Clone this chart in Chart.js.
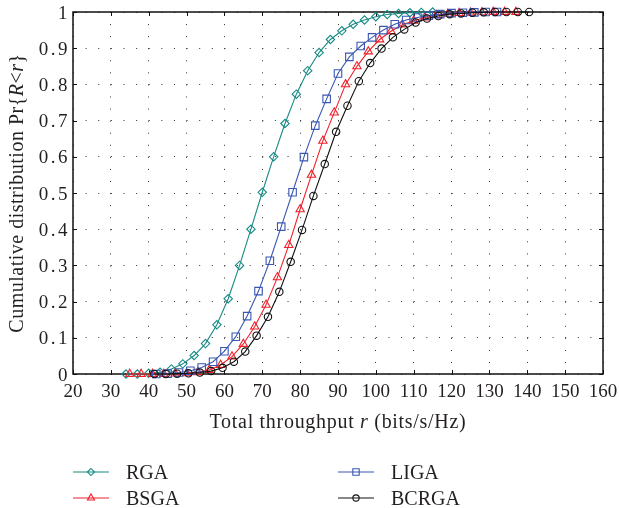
<!DOCTYPE html>
<html>
<head>
<meta charset="utf-8">
<script src="https://cdn.jsdelivr.net/npm/chart.js@4.4.0/dist/chart.umd.min.js"></script>
<style>
html, body { margin: 0; padding: 0; background: #fff; }
#wrap { width: 619px; height: 508px; }
</style>
</head>
<body>
<div id="wrap"><canvas id="cdfChart" width="619" height="508"></canvas></div>
<script>
// total throughput r (bits/s/Hz) at each marker, and Pr{R<r}
const rgaX = [34, 37, 40, 43, 46, 49, 52, 55, 58, 61, 64, 67, 70, 73, 76, 79, 82, 85, 88, 91, 94, 97, 100, 103, 106, 109, 112, 115];
const rgaY = [0, 0, 0.002, 0.005, 0.014, 0.028, 0.051, 0.084, 0.136, 0.208, 0.300, 0.400, 0.502, 0.600, 0.692, 0.773, 0.838, 0.888, 0.924, 0.948, 0.966, 0.978, 0.987, 0.993, 0.996, 0.998, 0.999, 1];

const bsgaX = [35, 38, 41, 44, 47, 50, 53, 56, 59, 62, 65, 68, 71, 74, 77, 80, 83, 86, 89, 92, 95, 98, 101, 104, 107, 110, 113, 116, 119, 122, 125, 128, 131, 134, 137];
const bsgaY = [0, 0, 0, 0, 0.001, 0.002, 0.005, 0.011, 0.025, 0.048, 0.083, 0.131, 0.191, 0.267, 0.356, 0.455, 0.550, 0.644, 0.722, 0.800, 0.850, 0.891, 0.924, 0.947, 0.965, 0.976, 0.985, 0.991, 0.995, 0.997, 0.998, 0.999, 1, 1, 1];

const ligaX = [42, 45, 48, 51, 54, 57, 60, 63, 66, 69, 72, 75, 78, 81, 84, 87, 90, 93, 96, 99, 102, 105, 108, 111, 114, 117, 120, 123, 126, 129, 132];
const ligaY = [0, 0.001, 0.004, 0.009, 0.018, 0.034, 0.063, 0.103, 0.160, 0.229, 0.313, 0.407, 0.502, 0.599, 0.686, 0.760, 0.830, 0.876, 0.906, 0.930, 0.950, 0.966, 0.978, 0.985, 0.990, 0.994, 0.997, 0.998, 0.999, 1, 1];

const bcrgaX = [41.5, 44.5, 47.5, 50.5, 53.5, 56.5, 59.5, 62.5, 65.5, 68.5, 71.5, 74.5, 77.5, 80.5, 83.5, 86.5, 89.5, 92.5, 95.5, 98.5, 101.5, 104.5, 107.5, 110.5, 113.5, 116.5, 119.5, 122.5, 125.5, 128.5, 131.5, 134.5, 137.5, 140.5];
const bcrgaY = [0, 0, 0.001, 0.002, 0.004, 0.008, 0.017, 0.034, 0.062, 0.106, 0.158, 0.227, 0.310, 0.398, 0.492, 0.580, 0.669, 0.741, 0.809, 0.859, 0.899, 0.930, 0.952, 0.971, 0.982, 0.989, 0.994, 0.996, 0.998, 0.999, 1, 1, 1, 1];

const xTicks = [20, 30, 40, 50, 60, 70, 80, 90, 100, 110, 120, 130, 140, 150, 160];
const yTicks = [0, 0.1, 0.2, 0.3, 0.4, 0.5, 0.6, 0.7, 0.8, 0.9, 1];
const yTickLabels = ['0', '0.1', '0.2', '0.3', '0.4', '0.5', '0.6', '0.7', '0.8', '0.9', '1'];

const seriesNames = ['RGA', 'BSGA', 'LIGA', 'BCRGA'];

const TEXT = '#231f20';
const FONT = "'Liberation Serif', 'DejaVu Serif', serif";

function pts(xs, ys) {
    return xs.map((v, i) => ({ x: v, y: ys[i] }));
}

function series(label, xs, ys, color, style, radius, order) {
    return {
        label: label,
        data: pts(xs, ys),
        borderColor: color,
        borderWidth: 1.1,
        pointStyle: style,
        pointRadius: radius,
        pointBorderWidth: 1.1,
        pointBorderColor: color,
        pointBackgroundColor: 'rgba(0,0,0,0)',
        fill: false,
        tension: 0,
        clip: false,
        order: order
    };
}

// draw a run of text pieces (some italic) centred on x = 0, baseline y = 0
function drawPieces(ctx, pieces, size) {
    let total = 0;
    pieces.forEach(p => {
        ctx.font = (p[1] ? 'italic ' : '') + size + 'px ' + FONT;
        total += ctx.measureText(p[0]).width;
    });
    let cx = -total / 2;
    pieces.forEach(p => {
        ctx.font = (p[1] ? 'italic ' : '') + size + 'px ' + FONT;
        ctx.fillText(p[0], cx, 0);
        cx += ctx.measureText(p[0]).width;
    });
}

const frameAndLabels = {
    id: 'frameAndLabels',
    beforeDatasetsDraw(chart) {
        const { ctx, chartArea: a, scales: { x, y } } = chart;
        ctx.save();
        ctx.strokeStyle = '#111';
        ctx.lineWidth = 1;
        ctx.beginPath();
        xTicks.forEach(v => {
            const px = Math.round(x.getPixelForValue(v)) + 0.5;
            ctx.moveTo(px, a.bottom); ctx.lineTo(px, a.bottom - 4);
            ctx.moveTo(px, a.top); ctx.lineTo(px, a.top + 4);
        });
        yTicks.forEach(v => {
            const py = Math.round(y.getPixelForValue(v)) + 0.5;
            ctx.moveTo(a.left, py); ctx.lineTo(a.left + 4, py);
            ctx.moveTo(a.right, py); ctx.lineTo(a.right - 4, py);
        });
        ctx.stroke();
        ctx.lineWidth = 1.5;
        ctx.strokeRect(a.left, a.top, a.right - a.left, a.bottom - a.top);
        ctx.restore();
    },
    afterDraw(chart) {
        const { ctx, chartArea: a, scales: { x, y } } = chart;
        ctx.save();
        ctx.fillStyle = TEXT;
        ctx.textBaseline = 'alphabetic';

        // tick labels
        ctx.font = '19px ' + FONT;
        ctx.textAlign = 'center';
        xTicks.forEach(v => {
            ctx.fillText(String(v), x.getPixelForValue(v), a.bottom + 23);
        });
        ctx.textAlign = 'right';
        ctx.letterSpacing = '2.5px';
        yTicks.forEach((v, i) => {
            ctx.fillText(yTickLabels[i], a.left - 3, y.getPixelForValue(v) + 6.5);
        });

        // axis titles
        ctx.textAlign = 'left';
        ctx.save();
        ctx.letterSpacing = '0.7px';
        ctx.translate((a.left + a.right) / 2, 428);
        drawPieces(ctx, [['Total throughput ', false], ['r', true], [' (bits/s/Hz)', false]], 20);
        ctx.restore();

        ctx.save();
        ctx.letterSpacing = '0.5px';
        ctx.translate(23, (a.top + a.bottom) / 2);
        ctx.rotate(-Math.PI / 2);
        drawPieces(ctx, [['Cumulative distribution Pr{', false], ['R', true], ['<', false], ['r', true], ['}', false]], 20);
        ctx.restore();

        // legend
        ctx.letterSpacing = '0px';
        const spots = [[73, 472], [73, 498], [338, 472], [338, 498]];
        chart.data.datasets.forEach(ds => {
            const k = seriesNames.indexOf(ds.label);
            const [lx, ly] = spots[k];
            ctx.strokeStyle = ds.borderColor;
            ctx.lineWidth = 1.1;
            ctx.beginPath();
            ctx.moveTo(lx, ly);
            ctx.lineTo(lx + 36, ly);
            ctx.stroke();
            ctx.fillStyle = 'rgba(0,0,0,0)';
            Chart.helpers.drawPoint(ctx, {
                pointStyle: ds.pointStyle,
                radius: ds.pointRadius * 0.85,
                rotation: 0,
                borderWidth: 1.1
            }, lx + 18, ly);
            ctx.fillStyle = TEXT;
            ctx.textAlign = 'left';
            ctx.font = '20px ' + FONT;
            ctx.fillText(ds.label, lx + 53, ly + 6.5);
        });
        ctx.restore();
    }
};

const ctx = document.getElementById('cdfChart').getContext('2d');
const cdfChart = new Chart(ctx, {
    type: 'line',
    data: {
        datasets: [
            series('BCRGA', bcrgaX, bcrgaY, '#111111', 'circle', 3.7, 0),
            series('LIGA', ligaX, ligaY, '#3a57b3', 'rect', 5.3, 1),
            series('BSGA', bsgaX, bsgaY, '#f0202a', 'triangle', 4.8, 2),
            series('RGA', rgaX, rgaY, '#178a84', 'rectRot', 4.2, 3)
        ]
    },
    options: {
        responsive: false,
        animation: false,
        events: [],
        layout: { padding: { left: 0, right: 16, top: 12, bottom: 0 } },
        plugins: {
            legend: { display: false },
            tooltip: { enabled: false }
        },
        scales: {
            x: {
                type: 'linear',
                min: 20,
                max: 160,
                afterBuildTicks: s => { s.ticks = xTicks.map(v => ({ value: v })); },
                afterFit: s => { s.height = 134; },
                ticks: { display: false },
                grid: { color: '#333', lineWidth: 1, drawTicks: false },
                border: { display: false, dash: [1, 11.07] }
            },
            y: {
                type: 'linear',
                min: 0,
                max: 1,
                afterBuildTicks: s => { s.ticks = yTicks.map(v => ({ value: v })); },
                afterFit: s => { s.width = 73; },
                ticks: { display: false },
                grid: { color: '#333', lineWidth: 1, drawTicks: false },
                border: { display: false, dash: [1, 11.62] }
            }
        }
    },
    plugins: [frameAndLabels]
});
</script>
</body>
</html>
